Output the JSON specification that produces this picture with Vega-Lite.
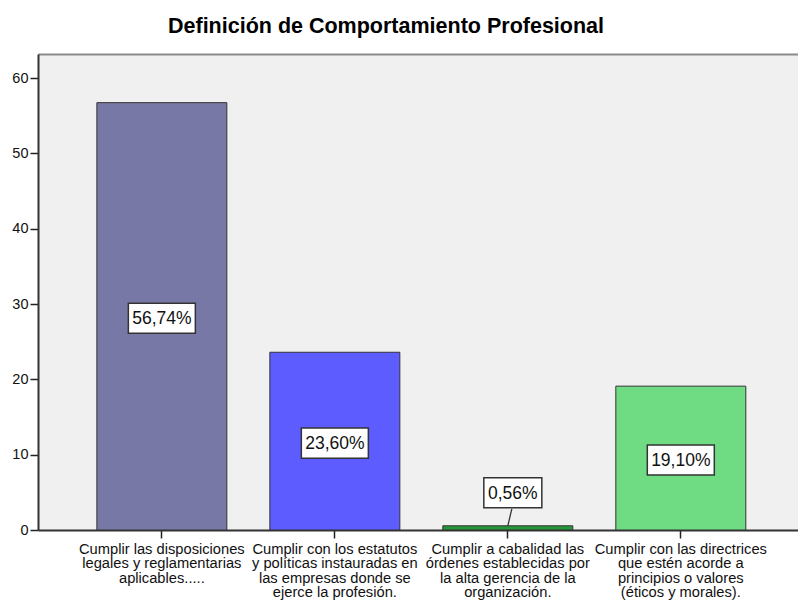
{
  "$schema": "https://vega.github.io/schema/vega-lite/v6.json",
  "autosize": {"type": "none"},
  "width": 760,
  "height": 476,
  "padding": {"left": 38, "top": 54, "right": 0, "bottom": 71},
  "background": "white",
  "config": {
    "view": {"fill": "#f0f0f0", "stroke": null},
    "font": "Liberation Sans"
  },
  "title": {
    "text": "Definición de Comportamiento Profesional",
    "font": "Liberation Sans",
    "fontSize": 21.5,
    "fontWeight": "bold",
    "color": "#000000",
    "anchor": "middle",
    "baseline": "alphabetic",
    "offset": 0,
    "dx": -32
  },
  "data": {
    "values": [
      {"categoria": "Cumplir las disposiciones\nlegales y reglamentarias\naplicables.....", "porcentaje": 56.74, "etiqueta": "56,74%"},
      {"categoria": "Cumplir con los estatutos\ny políticas instauradas en\nlas empresas donde se\nejerce la profesión.", "porcentaje": 23.60, "etiqueta": "23,60%"},
      {"categoria": "Cumplir a cabalidad las\nórdenes establecidas por\nla alta gerencia de la\norganización.", "porcentaje": 0.56, "etiqueta": "0,56%"},
      {"categoria": "Cumplir con las directrices\nque estén acorde a\nprincipios o valores\n(éticos y morales).", "porcentaje": 19.10, "etiqueta": "19,10%"}
    ]
  },
  "resolve": {
    "scale": {"y": "independent"},
    "axis": {"x": "independent", "y": "independent"}
  },
  "layer": [
    {
      "mark": {"type": "bar", "stroke": "#333333", "strokeWidth": 1, "opacity": 1},
      "encoding": {
        "x": {
          "field": "categoria", "type": "nominal", "sort": null,
          "scale": {"paddingInner": 0.2486, "paddingOuter": 0.321, "align": 0.53},
          "axis": {
            "title": null, "labelAngle": 0, "labelExpr": "split(datum.value, '\\n')",
            "labelFont": "Liberation Sans", "labelFontSize": 14.7, "labelLineHeight": 14.5,
            "labelColor": "#111111", "labelLimit": 400, "labelPadding": 3, "labelOverlap": false,
            "labelBaseline": "top",
            "tickSize": 8, "tickColor": "#222222", "tickWidth": 1.5,
            "domainColor": "#333333", "domainWidth": 2, "grid": false
          }
        },
        "y": {
          "field": "porcentaje", "type": "quantitative",
          "scale": {"domain": [0, 63.2], "nice": false, "zero": true},
          "axis": {
            "title": null, "values": [0, 10, 20, 30, 40, 50, 60], "grid": false,
            "labelFont": "Liberation Sans", "labelFontSize": 14.5, "labelColor": "#111111",
            "labelPadding": 2, "tickSize": 8, "tickColor": "#222222", "tickWidth": 1.5,
            "domainColor": "#333333", "domainWidth": 2
          }
        },
        "color": {
          "field": "categoria", "type": "nominal", "sort": null, "legend": null,
          "scale": {"range": ["#7878a6", "#5c5cff", "#24973a", "#6fdc84"]}
        }
      }
    },
    {
      "transform": [{"filter": "datum.porcentaje >= 5"}],
      "mark": {
        "type": "point", "shape": "M-1,-0.448L1,-0.448L1,0.448L-1,0.448Z",
        "size": 4489, "filled": true, "fill": "#ffffff", "stroke": "#333333",
        "strokeWidth": 1.5, "opacity": 1, "yOffset": 2
      },
      "encoding": {
        "x": {"field": "categoria", "type": "nominal", "sort": null, "axis": null},
        "y": {"field": "porcentaje", "type": "quantitative", "scale": {"domain": [0, 126.4], "nice": false}, "axis": null}
      }
    },
    {
      "transform": [{"filter": "datum.porcentaje >= 5"}],
      "mark": {
        "type": "text", "font": "Liberation Sans", "fontSize": 17.5, "color": "#111111",
        "baseline": "middle", "align": "center", "yOffset": 3
      },
      "encoding": {
        "x": {"field": "categoria", "type": "nominal", "sort": null, "axis": null},
        "y": {"field": "porcentaje", "type": "quantitative", "scale": {"domain": [0, 126.4], "nice": false}, "axis": null},
        "text": {"field": "etiqueta", "type": "nominal"}
      }
    },
    {
      "transform": [{"filter": "datum.porcentaje < 5"}],
      "mark": {"type": "rule", "color": "#333333", "strokeWidth": 1.3, "x2Offset": 4, "y2Offset": -17},
      "encoding": {
        "x": {
          "field": "categoria", "type": "nominal", "sort": null,
          "axis": {
            "orient": "top", "title": null, "labels": false, "ticks": false, "grid": false,
            "domainColor": "#8a8a8a", "domainWidth": 2
          }
        },
        "x2": {"field": "categoria"},
        "y": {"field": "porcentaje", "type": "quantitative", "scale": {"domain": [0, 63.2], "nice": false}, "axis": null},
        "y2": {"field": "porcentaje"}
      }
    },
    {
      "transform": [{"filter": "datum.porcentaje < 5"}],
      "mark": {
        "type": "point", "shape": "M-1,-0.517L1,-0.517L1,0.517L-1,0.517Z",
        "size": 3364, "filled": true, "fill": "#ffffff", "stroke": "#333333",
        "strokeWidth": 1.5, "opacity": 1, "xOffset": 5, "yOffset": -33
      },
      "encoding": {
        "x": {"field": "categoria", "type": "nominal", "sort": null, "axis": null},
        "y": {"field": "porcentaje", "type": "quantitative", "scale": {"domain": [0, 63.2], "nice": false}, "axis": null}
      }
    },
    {
      "transform": [{"filter": "datum.porcentaje < 5"}],
      "mark": {
        "type": "text", "font": "Liberation Sans", "fontSize": 17.5, "color": "#111111",
        "baseline": "middle", "align": "center", "xOffset": 5, "yOffset": -32
      },
      "encoding": {
        "x": {"field": "categoria", "type": "nominal", "sort": null, "axis": null},
        "y": {"field": "porcentaje", "type": "quantitative", "scale": {"domain": [0, 63.2], "nice": false}, "axis": null},
        "text": {"field": "etiqueta", "type": "nominal"}
      }
    }
  ]
}
